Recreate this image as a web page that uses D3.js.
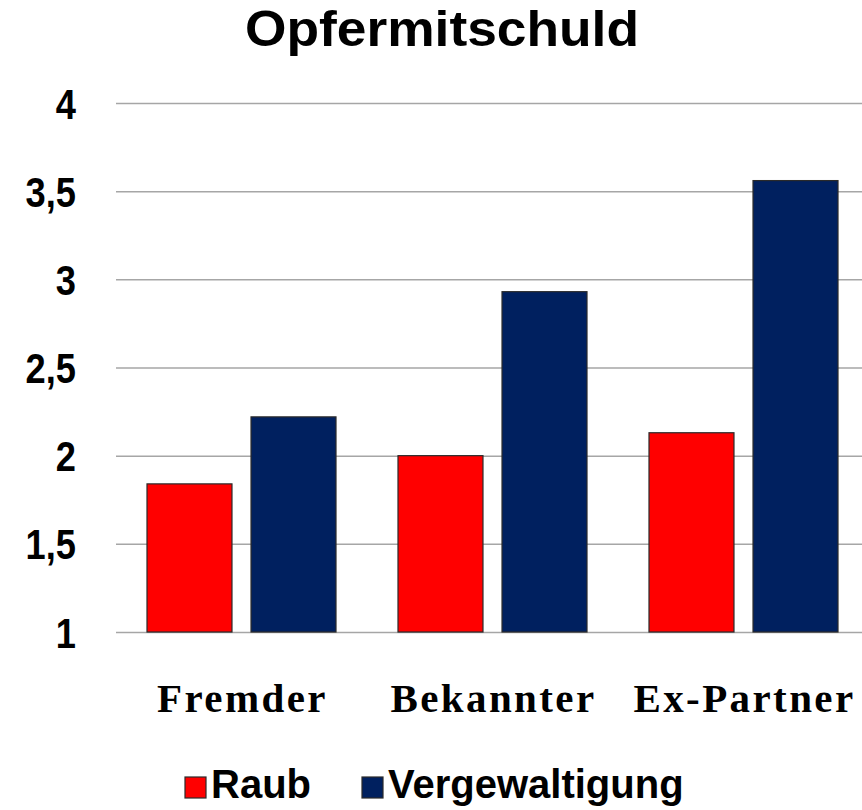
<!DOCTYPE html>
<html>
<head>
<meta charset="utf-8">
<script src="https://cdn.jsdelivr.net/npm/d3@7"></script>
<style>
  body { margin: 0; background: #fff; }
  svg { display: block; }
  .grid line { stroke: #a6a6a6; stroke-width: 1.5; }
  .grid path { display: none; }
</style>
</head>
<body>
<div id="chart"></div>
<script>
// data
const categories = ["Fremder", "Bekannter", "Ex-Partner"];
const seriesNames = ["Raub", "Vergewaltigung"];
const raub = [1.84, 2.0, 2.13];
const vergewaltigung = [2.22, 2.93, 3.56];
const yTicks = [1, 1.5, 2, 2.5, 3, 3.5, 4];

const colors = { "Raub": "#ff0000", "Vergewaltigung": "#00205f" };

const width = 862;
const height = 810;

const rows = categories.map((c, i) => ({
  category: c,
  values: [
    { series: "Raub", value: raub[i] },
    { series: "Vergewaltigung", value: vergewaltigung[i] }
  ]
}));

const svg = d3.select("#chart")
  .append("svg")
  .attr("width", width)
  .attr("height", height);

// scales
const x0 = d3.scaleBand().domain(categories).range([116, 869]);
const x1 = d3.scaleBand().domain(seriesNames)
  .range([0, x0.bandwidth()])
  .paddingInner(0.183)
  .paddingOuter(0.298);
const y = d3.scaleLinear().domain([1, 4]).range([632, 103]);

// gridlines + tick labels
const yAxis = d3.axisLeft(y)
  .tickValues(yTicks)
  .tickSize(-(width - 116))
  .tickPadding(40)
  .tickFormat(d => String(d).replace(".", ","));

const gy = svg.append("g")
  .attr("class", "grid")
  .attr("transform", "translate(116,0)")
  .call(yAxis);

// labels look a bit taller/narrower than plain Arial bold
gy.selectAll(".tick text")
  .attr("fill", "#000")
  .attr("x", null)
  .attr("dy", null)
  .attr("transform", "translate(-40,15) scale(0.93,1.08)")
  .style("font-family", "'Liberation Sans', Arial, sans-serif")
  .style("font-weight", "bold")
  .style("font-size", "39px");

// bars
const groups = svg.append("g")
  .selectAll("g")
  .data(rows)
  .join("g")
  .attr("transform", d => `translate(${x0(d.category)},0)`);

groups.selectAll("rect")
  .data(d => d.values)
  .join("rect")
  .attr("x", d => x1(d.series))
  .attr("width", x1.bandwidth())
  .attr("y", d => y(d.value))
  .attr("height", d => y(1) - y(d.value))
  .attr("fill", d => colors[d.series])
  .attr("stroke", "#2a2a2a")
  .attr("stroke-width", 1.2);

// category labels
svg.append("g")
  .selectAll("text")
  .data(categories)
  .join("text")
  .attr("x", d => x0(d) + x0.bandwidth() / 2 + 1)
  .attr("y", 712)
  .attr("text-anchor", "middle")
  .style("font-family", "'Liberation Serif', 'Times New Roman', serif")
  .style("font-weight", "bold")
  .style("font-size", "41px")
  .style("letter-spacing", "2.4px")
  .text(d => d);

// title
svg.append("text")
  .attr("x", 442)
  .attr("y", 46)
  .attr("text-anchor", "middle")
  .attr("textLength", 394)
  .attr("lengthAdjust", "spacingAndGlyphs")
  .style("font-family", "'Liberation Sans', Arial, sans-serif")
  .style("font-weight", "bold")
  .style("font-size", "50px")
  .text("Opfermitschuld");

// legend
const legendX = [185, 362];
const legend = svg.append("g")
  .selectAll("g")
  .data(seriesNames)
  .join("g")
  .attr("transform", (d, i) => `translate(${legendX[i]},777)`);

legend.append("rect")
  .attr("width", 21)
  .attr("height", 21)
  .attr("fill", d => colors[d])
  .attr("stroke", "#2a2a2a")
  .attr("stroke-width", 1.2);

legend.append("text")
  .attr("x", 26)
  .attr("y", 21)
  .style("font-family", "'Liberation Sans', Arial, sans-serif")
  .style("font-weight", "bold")
  .style("font-size", "40px")
  .text(d => d);
</script>
</body>
</html>
